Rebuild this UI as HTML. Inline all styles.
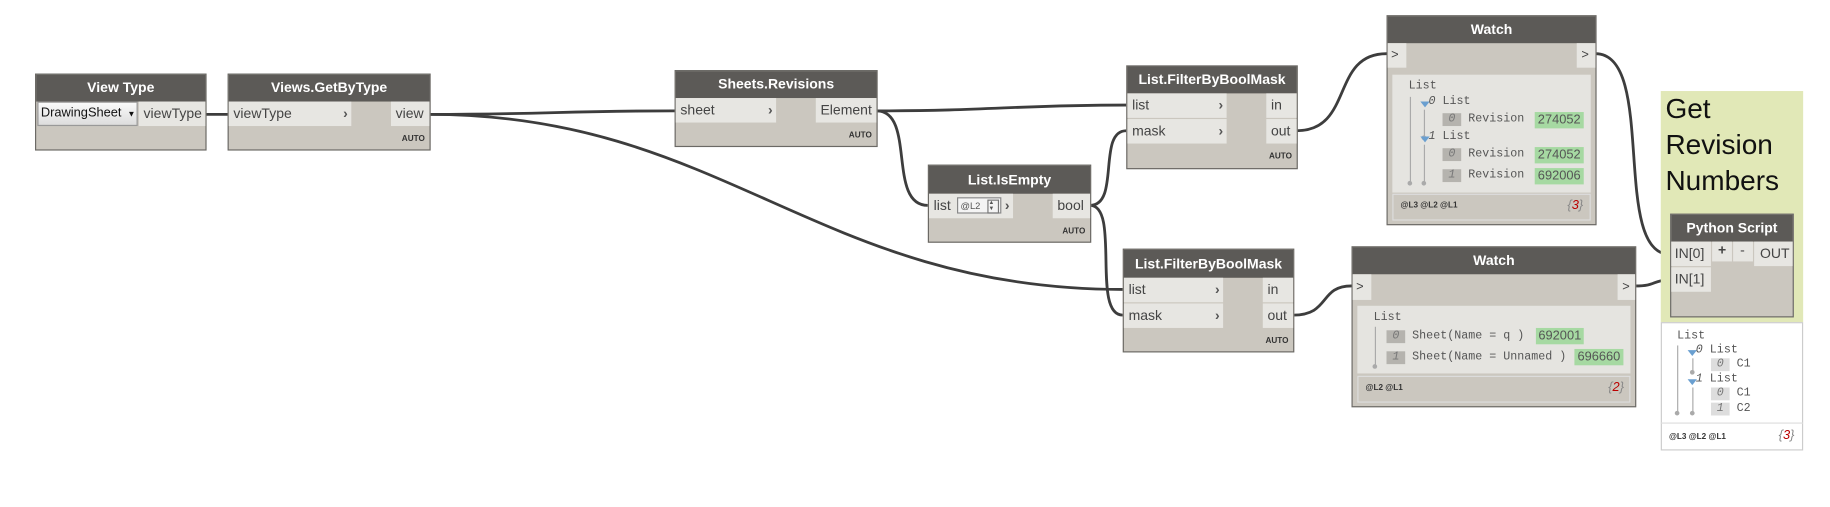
<!DOCTYPE html>
<html><head><meta charset="utf-8">
<style>
html,body{margin:0;padding:0;background:#fff;overflow:hidden}
#c{position:absolute;left:0;top:0;width:1568px;height:434px;transform:scale(1.16709);transform-origin:0 0;font-family:"Liberation Sans",sans-serif}
.n{position:absolute;background:#cbc7bf;border:1px solid #6b6965;box-sizing:border-box}
.h{position:absolute;left:0;top:0;right:0;background:#5c5a57;color:#fff;font-weight:bold;font-size:12px;text-align:center}
.r{position:absolute;background:#e7e6e2;color:#444;font-size:12px;box-sizing:border-box;padding-left:4px}
.ar{position:absolute;right:3px;top:0;font-weight:bold;color:#555}
.auto{position:absolute;right:4px;font-size:7px;font-weight:bold;color:#333}
.m{font-family:"Liberation Mono",monospace;font-size:10px;color:#555;position:absolute;white-space:nowrap}
.ix{background:#b5b3ae;color:#777;font-style:italic;text-align:center;width:16px;display:inline-block}
.g{position:absolute;background:#a6d9a2;color:#555;font-size:11px;text-align:center}
.ft{position:absolute;font-size:7px;font-weight:bold;color:#333}
.cnt{position:absolute;font-size:11px;color:#888;font-style:italic}
.cnt b{color:#b00;font-weight:normal}
.vl{position:absolute;width:1px;background:#aaa}
.dot{position:absolute;width:4px;height:4px;border-radius:2px;background:#aaa}
.tri{position:absolute;width:0;height:0;border-left:4px solid transparent;border-right:4px solid transparent;border-top:5px solid #6a9fd0}
</style></head><body><div id="c">
<svg width="1568" height="434" style="position:absolute;left:0;top:0" fill="none" stroke="#3d3d3d" stroke-width="2.4">
<path d="M176,98 L195,98"/>
<path d="M368,98 C470,98 480,95 578,95"/>
<path d="M368,98 C620,98 700,248 962,248"/>
<path d="M751,95 C850,95 870,90 965,90"/>
<path d="M751,95 C785,95 760,176 795,176"/>
<path d="M934,176 C960,176 940,112 965,112"/>
<path d="M934,176 C960,176 935,270 962,270"/>
<path d="M1111,112 C1160,112 1140,46 1188,46"/>
<path d="M1367,46 C1420,46 1380,218 1431,218"/>
<path d="M1108,270 C1140,270 1130,245 1158,245"/>
<path d="M1401,245 C1420,245 1415,240 1431,240"/>
</svg>

<!-- View Type -->
<div class="n" style="left:30px;top:63px;width:147px;height:66px">
<div class="h" style="height:23px;line-height:23px">View Type</div>
<div style="position:absolute;left:1px;top:23px;width:86px;height:21px;background:linear-gradient(#fafafa,#ddd);border:1px solid #999;box-sizing:border-box;font-size:11px;line-height:19px;padding-left:2px;color:#111">DrawingSheet <span style="font-size:7px;margin-left:2px">▼</span></div>
<div class="r" style="left:88px;top:23px;width:57px;height:21px;line-height:21px">viewType</div>
</div>

<!-- Views.GetByType -->
<div class="n" style="left:195px;top:63px;width:174px;height:66px">
<div class="h" style="height:23px;line-height:23px">Views.GetByType</div>
<div class="r" style="left:0;top:23px;width:105px;height:21px;line-height:21px">viewType<span class="ar">›</span></div>
<div class="r" style="left:139px;top:23px;width:33px;height:21px;line-height:21px">view</div>
<div class="auto" style="top:52px">AUTO</div>
</div>

<!-- Sheets.Revisions -->
<div class="n" style="left:578px;top:60px;width:174px;height:66px">
<div class="h" style="height:23px;line-height:23px">Sheets.Revisions</div>
<div class="r" style="left:0;top:23px;width:86px;height:21px;line-height:21px">sheet<span class="ar">›</span></div>
<div class="r" style="left:120px;top:23px;width:52px;height:21px;line-height:21px">Element</div>
<div class="auto" style="top:52px">AUTO</div>
</div>

<!-- List.IsEmpty -->
<div class="n" style="left:795px;top:141px;width:140px;height:67px">
<div class="h" style="height:24px;line-height:24px">List.IsEmpty</div>
<div class="r" style="left:0;top:24px;width:72px;height:21px;line-height:21px">list
<span style="position:absolute;left:24px;top:3px;width:38px;height:14px;border:1px solid #888;background:#f4f4f4;font-size:8px;line-height:13px;color:#555;box-sizing:border-box;padding-left:2px">@L2<span style="position:absolute;right:1px;top:1px;width:8px;height:10px;border:1px solid #777;font-size:5px;line-height:5px">▲<br>▼</span></span><span class="ar">›</span></div>
<div class="r" style="left:106px;top:24px;width:32px;height:21px;line-height:21px">bool</div>
<div class="auto" style="top:53px">AUTO</div>
</div>

<!-- Filter top -->
<div class="n" style="left:965px;top:56px;width:147px;height:89px">
<div class="h" style="height:23px;line-height:23px">List.FilterByBoolMask</div>
<div class="r" style="left:0;top:23px;width:85px;height:21px;line-height:21px">list<span class="ar">›</span></div>
<div class="r" style="left:0;top:45px;width:85px;height:21px;line-height:21px">mask<span class="ar">›</span></div>
<div class="r" style="left:119px;top:23px;width:26px;height:21px;line-height:21px">in</div>
<div class="r" style="left:119px;top:45px;width:26px;height:21px;line-height:21px">out</div>
<div class="auto" style="top:74px">AUTO</div>
</div>

<!-- Filter bottom -->
<div class="n" style="left:962px;top:213px;width:147px;height:89px">
<div class="h" style="height:24px;line-height:24px">List.FilterByBoolMask</div>
<div class="r" style="left:0;top:24px;width:85px;height:21px;line-height:21px">list<span class="ar">›</span></div>
<div class="r" style="left:0;top:46px;width:85px;height:21px;line-height:21px">mask<span class="ar">›</span></div>
<div class="r" style="left:119px;top:24px;width:26px;height:21px;line-height:21px">in</div>
<div class="r" style="left:119px;top:46px;width:26px;height:21px;line-height:21px">out</div>
<div class="auto" style="top:75px">AUTO</div>
</div>

<!-- Watch top -->
<div class="n" style="left:1188px;top:13px;width:180px;height:180px">
<div class="h" style="height:23px;line-height:23px">Watch</div>
<div class="r" style="left:0;top:23px;width:16px;height:21px;line-height:21px;padding-left:3px;font-size:11px">&gt;</div>
<div class="r" style="left:162px;top:23px;width:16px;height:21px;line-height:21px;padding-left:4px;font-size:11px">&gt;</div>
<div style="position:absolute;left:4px;top:50px;width:170px;height:101px;background:#e5e4e0"></div>
<div class="m" style="left:18px;top:55px">List</div>
<div class="vl" style="left:19px;top:69px;height:74px"></div><div class="dot" style="left:17px;top:141px"></div>
<div class="tri" style="left:28px;top:73px"></div><div class="m" style="left:35px;top:68px"><i>0</i> List</div>
<div class="vl" style="left:31px;top:80px;height:24px"></div><div class="dot" style="left:29px;top:102px"></div>
<div class="m" style="left:47px;top:83px;line-height:11px"><span class="ix">0</span> Revision</div><div class="g" style="left:126px;top:82px;width:42px;height:14px;line-height:14px">274052</div>
<div class="tri" style="left:28px;top:103px"></div><div class="m" style="left:35px;top:98px"><i>1</i> List</div>
<div class="vl" style="left:31px;top:110px;height:33px"></div><div class="dot" style="left:29px;top:141px"></div>
<div class="m" style="left:47px;top:113px;line-height:11px"><span class="ix">0</span> Revision</div><div class="g" style="left:126px;top:112px;width:42px;height:14px;line-height:14px">274052</div>
<div class="m" style="left:47px;top:131px;line-height:11px"><span class="ix">1</span> Revision</div><div class="g" style="left:126px;top:130px;width:42px;height:14px;line-height:14px">692006</div>
<div style="position:absolute;left:4px;top:152px;width:170px;height:23px;border:1px solid #ddd;box-sizing:border-box"></div>
<div class="ft" style="left:11px;top:159px">@L3 @L2 @L1</div>
<div class="cnt" style="left:154px;top:156px">{<b>3</b>}</div>
</div>

<!-- Watch bottom -->
<div class="n" style="left:1158px;top:211px;width:244px;height:138px">
<div class="h" style="height:23px;line-height:23px">Watch</div>
<div class="r" style="left:0;top:23px;width:16px;height:22px;line-height:22px;padding-left:3px;font-size:11px">&gt;</div>
<div class="r" style="left:227px;top:23px;width:15px;height:22px;line-height:22px;padding-left:4px;font-size:11px">&gt;</div>
<div style="position:absolute;left:4px;top:50px;width:234px;height:58px;background:#e5e4e0"></div>
<div class="m" style="left:18px;top:55px">List</div>
<div class="vl" style="left:19px;top:68px;height:34px"></div><div class="dot" style="left:17px;top:100px"></div>
<div class="m" style="left:29px;top:71px;line-height:11px"><span class="ix">0</span> Sheet(Name = q )</div><div class="g" style="left:157px;top:69px;width:41px;height:14px;line-height:14px">692001</div>
<div class="m" style="left:29px;top:89px;line-height:11px"><span class="ix">1</span> Sheet(Name = Unnamed )</div><div class="g" style="left:190px;top:87px;width:42px;height:14px;line-height:14px">696660</div>
<div style="position:absolute;left:4px;top:110px;width:234px;height:23px;border:1px solid #ddd;box-sizing:border-box"></div>
<div class="ft" style="left:11px;top:117px">@L2 @L1</div>
<div class="cnt" style="left:219px;top:114px">{<b>2</b>}</div>
</div>

<!-- Group -->
<div style="position:absolute;left:1423px;top:78px;width:122px;height:198px;background:#e1e8b7"></div>
<div style="position:absolute;left:1427px;top:78px;font-size:24px;line-height:31px;color:#111">Get<br>Revision<br>Numbers</div>

<!-- Python Script -->
<div class="n" style="left:1431px;top:183px;width:106px;height:89px">
<div class="h" style="height:23px;line-height:23px">Python Script</div>
<div class="r" style="left:0;top:23px;width:34px;height:21px;line-height:21px;padding-left:3px">IN[0]</div>
<div class="r" style="left:0;top:45px;width:34px;height:21px;line-height:21px;padding-left:3px">IN[1]</div>
<div class="r" style="left:35px;top:23px;width:17px;height:17px;line-height:15px;padding-left:5px;font-weight:bold">+</div>
<div class="r" style="left:53px;top:23px;width:17px;height:17px;line-height:15px;padding-left:6px">-</div>
<div class="r" style="left:71px;top:23px;width:33px;height:21px;line-height:21px;padding-left:5px">OUT</div>
</div>

<!-- Python preview -->
<div style="position:absolute;left:1423px;top:276px;width:122px;height:110px;background:#fff;border:1px solid #ccc;box-sizing:border-box"></div>
<div class="m" style="left:1437px;top:283px">List</div>
<div class="vl" style="left:1437px;top:296px;height:58px"></div><div class="dot" style="left:1435px;top:352px"></div>
<div class="tri" style="left:1446px;top:300px"></div><div class="m" style="left:1453px;top:295px"><i>0</i> List</div>
<div class="vl" style="left:1450px;top:307px;height:12px"></div><div class="dot" style="left:1448px;top:317px"></div>
<div class="m" style="left:1466px;top:307px;line-height:11px"><span class="ix" style="background:#ddd">0</span> C1</div>
<div class="tri" style="left:1446px;top:325px"></div><div class="m" style="left:1453px;top:320px"><i>1</i> List</div>
<div class="vl" style="left:1450px;top:332px;height:22px"></div><div class="dot" style="left:1448px;top:352px"></div>
<div class="m" style="left:1466px;top:332px;line-height:11px"><span class="ix" style="background:#ddd">0</span> C1</div>
<div class="m" style="left:1466px;top:345px;line-height:11px"><span class="ix" style="background:#ddd">1</span> C2</div>
<div style="position:absolute;left:1423px;top:362px;width:122px;height:1px;background:#ddd"></div>
<div class="ft" style="left:1430px;top:371px">@L3 @L2 @L1</div>
<div class="cnt" style="left:1524px;top:367px">{<b>3</b>}</div>
</div></body></html>
